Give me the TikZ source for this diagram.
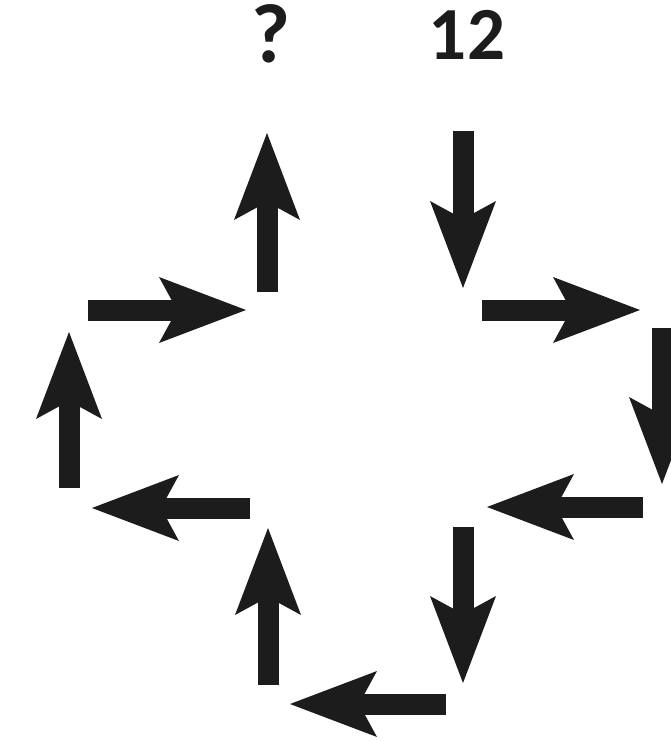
\documentclass[tikz,border=0pt]{standalone}
\usepackage{fontspec}
\setmainfont{Carlito}
\usetikzlibrary{arrows.meta}
\definecolor{ink}{HTML}{1C1C1C}
\begin{document}
\begin{tikzpicture}[x=1pt,y=-1pt,
  bigarrow/.style={draw=ink,line width=21pt,
    -{Stealth[length=87pt,width=66pt,inset=18pt,line width=0pt,fill=ink]}},
  lbl/.style={text=ink,font=\bfseries\fontsize{75}{80}\selectfont,inner sep=0pt}]
\clip (0,0) rectangle (671,741);
\useasboundingbox (0,0) rectangle (671,741);
\node[lbl,font=\bfseries\fontsize{84}{90}\selectfont] (q) at (271,34) {?};
\node[lbl] (n12) at (467,35) {12};
% arrow end points
\coordinate (a1s) at (267,292); \coordinate (a1e) at (267,133);
\coordinate (a2s) at (463,131); \coordinate (a2e) at (463,288);
\coordinate (a3s) at (482,310); \coordinate (a3e) at (640,310);
\coordinate (a4s) at (662,328); \coordinate (a4e) at (662,484);
\coordinate (a5s) at (643,507); \coordinate (a5e) at (487,507);
\coordinate (a6s) at (463,527); \coordinate (a6e) at (463,683);
\coordinate (a7s) at (446,704); \coordinate (a7e) at (290,704);
\coordinate (a8s) at (268,685); \coordinate (a8e) at (268,528);
\coordinate (a9s) at (250,508); \coordinate (a9e) at (92,508);
\coordinate (a10s) at (69,488); \coordinate (a10e) at (69,332);
\coordinate (a11s) at (88,310); \coordinate (a11e) at (246,310);
\foreach \i in {1,...,11}{\draw[bigarrow] (a\i s) -- (a\i e);}
\end{tikzpicture}
\end{document}
